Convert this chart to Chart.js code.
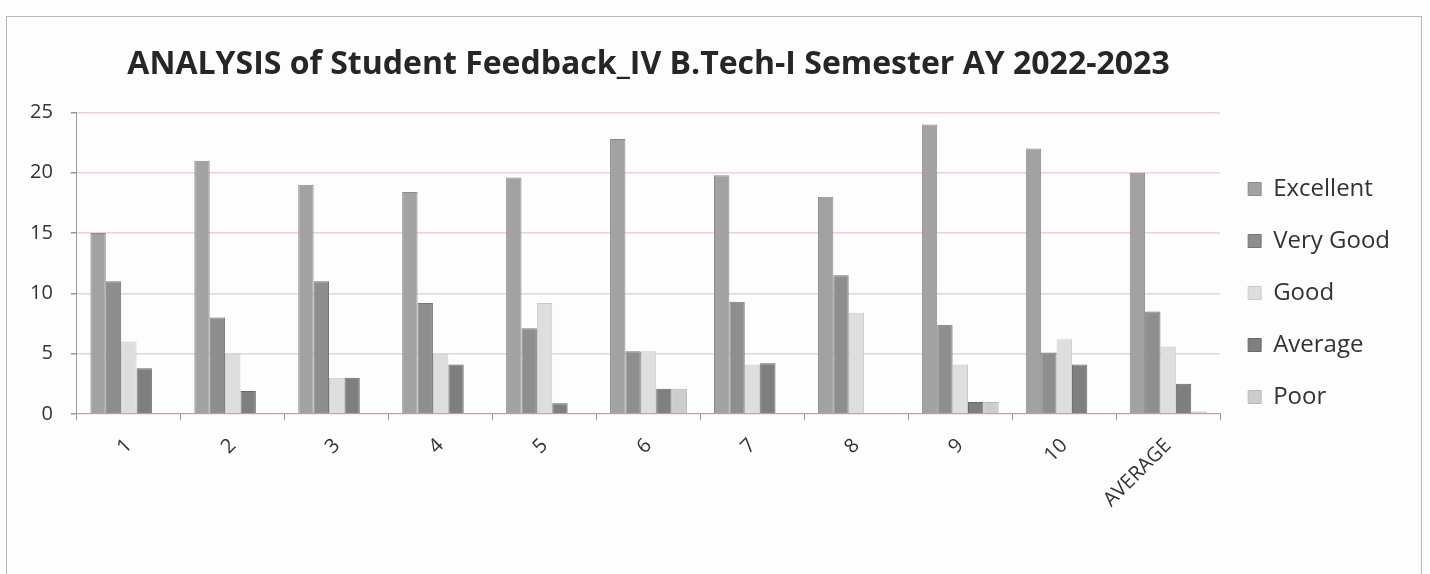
<!DOCTYPE html>
<html>
<head>
<meta charset="utf-8">
<script src="https://cdn.jsdelivr.net/npm/chart.js@4/dist/chart.umd.min.js"></script>
<style>
  html, body { margin: 0; padding: 0; background: #fdfdfd; }
  #wrap { position: relative; width: 1430px; height: 574px; }
  #frame { position: absolute; left: 6px; top: 16px; width: 1414px; height: 570px; border: 1px solid #b8b8b8; }
  canvas { position: absolute; left: 0; top: 0; }
</style>
</head>
<body>
<div id="wrap">
  <div id="frame"></div>
  <canvas id="myChart" width="1430" height="574"></canvas>
</div>
<script>
const labels = ["1", "2", "3", "4", "5", "6", "7", "8", "9", "10", "AVERAGE"];
const excellent = [15, 21, 19, 18.4, 19.6, 22.8, 19.8, 18, 24, 22, 20];
const veryGood = [11, 8, 11, 9.2, 7.1, 5.2, 9.3, 11.5, 7.4, 5.1, 8.5];
const good = [6, 5, 3, 5, 9.2, 5.2, 4.1, 8.4, 4.1, 6.2, 5.6];
const average = [3.8, 1.9, 3, 4.1, 0.9, 2.1, 4.2, 0, 1, 4.1, 2.5];
const poor = [0, 0, 0, 0, 0, 2.1, 0, 0, 1, 0, 0.2];
const yTicks = [0, 5, 10, 15, 20, 25];

const ctx = document.getElementById('myChart');
new Chart(ctx, {
  type: 'bar',
  data: {
    labels: labels,
    datasets: [
      { label: 'Excellent', data: excellent, backgroundColor: '#a2a2a2', borderColor: '#8a8a8a', borderWidth: 1 },
      { label: 'Very Good', data: veryGood, backgroundColor: '#8e8e8e', borderColor: '#767676', borderWidth: 1 },
      { label: 'Good', data: good, backgroundColor: '#dedede', borderColor: '#cacaca', borderWidth: 1 },
      { label: 'Average', data: average, backgroundColor: '#7f7f7f', borderColor: '#686868', borderWidth: 1 },
      { label: 'Poor', data: poor, backgroundColor: '#cdcdcd', borderColor: '#b8b8b8', borderWidth: 1 }
    ]
  },
  options: {
    responsive: false,
    animation: false,
    layout: { padding: { left: 12, right: 30, top: 20, bottom: 48 } },
    datasets: { bar: { categoryPercentage: 0.74, barPercentage: 1 } },
    scales: {
      y: {
        min: 0,
        max: 25,
        afterBuildTicks: (axis) => { axis.ticks = yTicks.map(v => ({ value: v })); },
        grid: { color: '#f0d2d2', lineWidth: 1.5, tickLength: 6, tickColor: '#999' },
        border: { color: '#999' },
        ticks: { color: '#333', font: { family: 'Open Sans', size: 20 }, padding: 18 }
      },
      x: {
        grid: { drawOnChartArea: false, offset: true, tickLength: 6, tickColor: '#999' },
        border: { color: '#aaa' },
        ticks: { color: '#333', font: { family: 'Open Sans', size: 20 }, minRotation: 45, maxRotation: 45, padding: 14 }
      }
    },
    plugins: {
      title: {
        display: true,
        fullSize: false,
        text: 'ANALYSIS of Student Feedback_IV B.Tech-I Semester AY 2022-2023',
        color: '#262626',
        font: { family: 'Open Sans', size: 32, weight: 'bold' },
        padding: { top: 26, bottom: 28 }
      },
      legend: {
        position: 'right',
        // empty title only pushes the items down a bit
        title: { display: true, text: ' ', font: { size: 10 }, padding: { top: 14, bottom: 14 } },
        labels: {
          color: '#333',
          font: { family: 'Open Sans', size: 24 },
          boxWidth: 13,
          boxHeight: 13,
          padding: 28
        }
      },
      tooltip: { enabled: false }
    }
  }
});
</script>
</body>
</html>
